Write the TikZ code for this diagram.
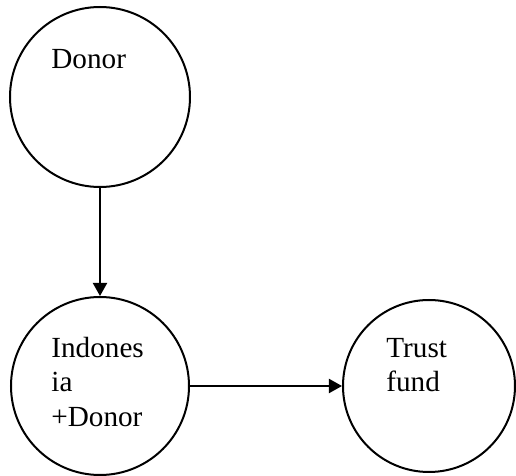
\documentclass[tikz,border=0pt]{standalone}
\usepackage{fontspec}
\setmainfont{Liberation Serif}
\usetikzlibrary{arrows.meta}
\begin{document}
\begin{tikzpicture}[x=0.5pt,y=-0.5pt,
  bubble/.style={draw=black,line width=1pt,circle,inner sep=0pt},
  caption/.style={anchor=base west,inner sep=0pt,font=\fontsize{14.6pt}{17.5pt}\selectfont},
  link/.style={line width=1pt,-{Triangle[length=6.5pt,width=7pt]}}]
\useasboundingbox (0,0) rectangle (516,476);
% circles
\node[bubble,minimum size=180*0.5pt] (donor) at (100,97) {};
\node[bubble,minimum size=178*0.5pt] (indo) at (100,386) {};
\node[bubble,minimum size=172*0.5pt] (trust) at (429,386) {};
% texts
\node[caption] (t1) at (51,69) {Donor};
\node[caption] (t2) at (51,358) {Indones};
\node[caption] (t3) at (51,392) {ia};
\node[caption] (t4) at (51,427) {+Donor};
\node[caption] (t5) at (386,358) {Trust};
\node[caption] (t6) at (386,392) {fund};
% connectors
\draw[link] (donor) -- (indo);
\draw[link] (indo) -- (trust);
\end{tikzpicture}
\end{document}
